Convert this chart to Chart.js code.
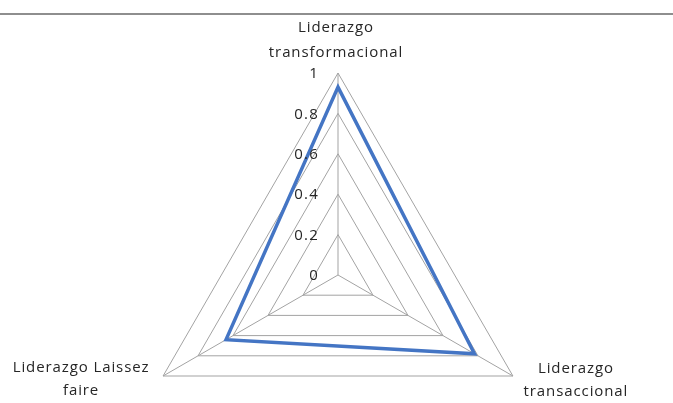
<!DOCTYPE html>
<html><head><meta charset="utf-8">
<script src="https://cdn.jsdelivr.net/npm/chart.js@4/dist/chart.umd.min.js"></script>
<style>
html,body{margin:0;padding:0;background:#fff;overflow:hidden;width:673px;height:403px;}
#wrap{position:absolute;left:0;top:0;width:673px;height:480px;}
#rule{position:absolute;left:0;top:13px;width:673px;height:0;border-top:2px solid #8e8e8e;}
</style></head><body>
<div id="wrap"><canvas id="c" width="673" height="480"></canvas></div>
<div id="rule"></div>
<script>
// ---- data ----
const categories = [["Liderazgo", "transformacional"], ["Liderazgo", "transaccional"], ["Liderazgo Laissez", "faire"]];
const seriesValues = [0.93, 0.78, 0.64];
const tickLabels = ["0", "0.2", "0.4", "0.6", "0.8", "1"];

// ---- styling / placement (relative to the scale) ----
const labelOffsets = [
  {dx: -2, dy: -45, lh: 25},
  {dx: 63, dy: -7, lh: 23},
  {dx: -82, dy: -8, lh: 23}
];
const textColor = '#262626';
const fontFamily = '"Open Sans", sans-serif';

const labelPlugin = {
  id: 'customLabels',
  afterDatasetsDraw(chart) {
    const scale = chart.scales.r;
    const ctx = chart.ctx;
    ctx.save();
    ctx.font = '15px ' + fontFamily;
    ctx.fillStyle = textColor;
    ctx.textAlign = 'right';
    ctx.textBaseline = 'middle';
    try { ctx.letterSpacing = '1.2px'; } catch (e) {}
    scale.ticks.forEach((t, i) => {
      const d = scale.getDistanceFromCenterForValue(t.value);
      const txt = tickLabels[i] !== undefined ? tickLabels[i] : String(t.value);
      ctx.fillText(txt, scale.xCenter - 19, scale.yCenter - d + 1);
    });
    ctx.textAlign = 'center';
    try { ctx.letterSpacing = '0.9px'; } catch (e) {}
    categories.forEach((lines, i) => {
      const p = scale.getPointPosition(i, scale.drawingArea);
      const o = labelOffsets[i];
      lines.forEach((ln, j) => {
        ctx.fillText(ln, p.x + o.dx, p.y + o.dy + j * o.lh);
      });
    });
    ctx.restore();
  }
};

new Chart(document.getElementById('c'), {
  type: 'radar',
  data: {
    labels: categories,
    datasets: [{
      data: seriesValues,
      borderColor: '#4475c4',
      borderWidth: 3.5,
      fill: false,
      pointRadius: 0,
      pointHoverRadius: 0,
      tension: 0
    }]
  },
  options: {
    responsive: false,
    animation: false,
    events: [],
    layout: {padding: {top: 73, bottom: 3, left: 136, right: 133}},
    plugins: {legend: {display: false}, tooltip: {enabled: false}},
    elements: {line: {borderJoinStyle: 'miter'}},
    scales: {
      r: {
        min: 0,
        max: 1,
        ticks: {stepSize: 0.2, display: false},
        pointLabels: {display: false},
        grid: {color: '#a3a3a3', lineWidth: 1},
        angleLines: {color: '#a3a3a3', lineWidth: 1}
      }
    }
  },
  plugins: [labelPlugin]
});
</script>
</body></html>
